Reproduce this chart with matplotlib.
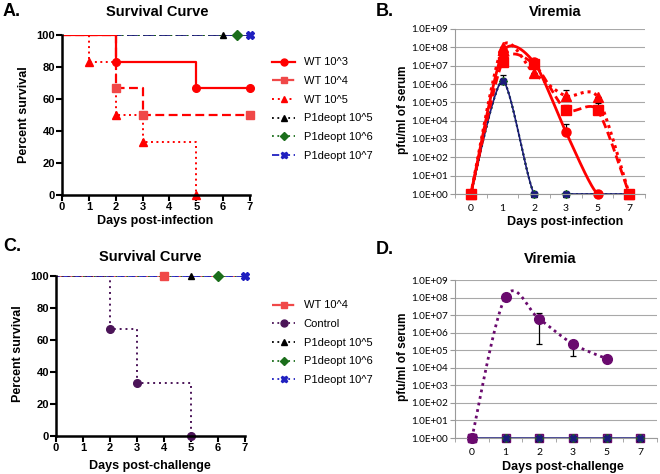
import numpy as np
import matplotlib
matplotlib.use("Agg")
import matplotlib.pyplot as plt
from matplotlib.ticker import FixedLocator, FixedFormatter

plt.rcParams['font.family'] = ['Liberation Sans', 'DejaVu Sans']

# ---- data ----
days = [0, 1, 2, 3, 4, 5, 6, 7]

# panel A survival (step points)
a_wt3_t = [0, 2, 5, 7]
a_wt3_s = [100, 83.3, 66.7, 66.7]
a_wt4_t = [0, 2, 3, 7]
a_wt4_s = [100, 66.7, 50, 50]
a_wt5_t = [0, 1, 2, 3, 5]
a_wt5_s = [100, 83.3, 50, 33.3, 0]
a_p1_mark = [6, 6.5, 7]          # censor marks of P1deopt 10^5, 10^6, 10^7

# panel C survival
c_ctrl_t = [0, 2, 3, 5]
c_ctrl_s = [100, 66.7, 33.3, 0]
c_mark = [4, 5, 6, 7]            # WT 10^4, P1deopt 10^5, 10^6, 10^7

# viremia categories
vir_days = ['0', '1', '2', '3', '5', '7']
vir_ticks = [1e0, 1e1, 1e2, 1e3, 1e4, 1e5, 1e6, 1e7, 1e8, 1e9]
vir_labels = ['1.0E+00', '1.0E+01', '1.0E+02', '1.0E+03', '1.0E+04',
              '1.0E+05', '1.0E+06', '1.0E+07', '1.0E+08', '1.0E+09']

# panel B
b_wt3 = [1, 5e7, 1.5e7, 2.5e3, 1, 1]
b_wt3_err = [0, 0, 0, 4.5e3, 0, 0]
b_wt4 = [1, 1.6e7, 1.2e7, 3.8e4, 3.8e4, 1]
b_wt4_err = [0, 0, 0, 3.5e4, 5e4, 0]
b_wt5 = [1, 1.1e8, 3.8e6, 2.2e5, 2e5, 1]
b_wt5_err = [0, 0, 0, 2.5e5, 0, 0]
b_p1 = [1, 1.5e6, 1, 1, 1, 1]
b_p1_err = [0, 1.5e6, 0, 0, 0, 0]

# panel D
d_ctrl = [1, 1.1e8, 6e6, 2.3e5, 3.3e4]
d_ctrl_lo = [0, 0, 5.77e6, 1.83e5, 0]
d_ctrl_hi = [0, 0, 7e6, 0, 0]
d_flat = [1, 1, 1, 1, 1, 1]

RED = '#ff0000'
LRED = '#f04848'
GREEN = '#1b6e1b'
BLUE = '#2020c0'
NAVY = '#1c1c7a'
PURPLE = '#4b1458'
DPURPLE = '#6a0a6e'

W, H = 660, 474
fig = plt.figure(figsize=(6.6, 4.74), dpi=100)


def rect(l, t, r, b):
    return [l / W, 1 - b / H, (r - l) / W, (b - t) / H]


def ftext(x, y, s, **kw):
    fig.text(x / W, 1 - y / H, s, ha=kw.pop('ha', 'center'),
             va=kw.pop('va', 'center'), **kw)


def smooth(y, k=8):
    # smoothed line (Catmull-Rom style in log space), like a spreadsheet "smoothed line"
    x = np.arange(len(y), dtype=float)
    ly = np.log10(np.asarray(y, dtype=float))
    P = np.column_stack([x, ly])
    out = []
    n = len(P)
    for i in range(n - 1):
        p0 = P[i - 1] if i > 0 else P[i]
        p1, p2 = P[i], P[i + 1]
        p3 = P[i + 2] if i + 2 < n else P[i + 1]
        c1 = p1 + (p2 - p0) / k
        c2 = p2 - (p3 - p1) / k
        t = np.linspace(0, 1, 30)[:, None]
        seg = ((1 - t) ** 3) * p1 + 3 * ((1 - t) ** 2) * t * c1 + 3 * (1 - t) * t ** 2 * c2 + t ** 3 * p2
        out.append(seg)
    out = np.vstack(out)
    return out[:, 0], 10 ** out[:, 1]


def prism_axes(ax):
    for s in ['top', 'right']:
        ax.spines[s].set_visible(False)
    for s in ['left', 'bottom']:
        ax.spines[s].set_linewidth(1.8)
    ax.set_xlim(0, 7)
    ax.set_ylim(0, 100)
    ax.set_xticks(days)
    ax.set_yticks([0, 20, 40, 60, 80, 100])
    ax.tick_params(width=1.5, length=4, labelsize=8, pad=1)
    for lab in ax.get_xticklabels() + ax.get_yticklabels():
        lab.set_fontweight('bold')


def excel_axes(ax, ncat):
    ax.set_yscale('log')
    ax.set_ylim(1, 1e9)
    ax.set_xlim(-0.5, ncat - 0.5)
    ax.yaxis.set_major_locator(FixedLocator(vir_ticks))
    ax.yaxis.set_major_formatter(FixedFormatter(vir_labels))
    ax.yaxis.set_minor_locator(FixedLocator([]))
    ax.set_xticks(range(ncat))
    ax.set_xticklabels(vir_days)
    ax.set_xticks(np.arange(-0.5, ncat, 1), minor=True)
    ax.tick_params(axis='x', which='major', length=0, labelsize=7.5, pad=7,
                   labelfontfamily='Lato')
    ax.tick_params(axis='x', which='minor', length=3, color='#9a9a9a')
    ax.tick_params(axis='y', length=3.5, color='#9a9a9a', labelsize=7.2, pad=1.5,
                   labelfontfamily='Lato')
    for s in ['top', 'right']:
        ax.spines[s].set_visible(False)
    for s in ['left', 'bottom']:
        ax.spines[s].set_color('#9a9a9a')
        ax.spines[s].set_linewidth(0.8)
    ax.grid(axis='y', color='#a8a8a8', linewidth=0.8)
    ax.set_axisbelow(True)


# ---------------- Panel A ----------------
axA = fig.add_axes(rect(62, 35, 250, 195))
prism_axes(axA)
axA.plot([0, 7], [100, 100], ls=(0, (1, 2)), color='black', lw=1.3)
axA.plot([0, 7], [100, 100], ls=(0, (1, 2)), color=GREEN, lw=1.3)
axA.plot([0, 7], [100, 100], ls=(0, (6, 3)), color=NAVY, lw=1.3)
axA.plot(a_wt5_t, a_wt5_s, drawstyle='steps-post', ls=(0, (1, 1.8)), color=RED, lw=1.4)
axA.plot(a_wt4_t, a_wt4_s, drawstyle='steps-post', ls=(0, (4, 2)), color=RED, lw=1.6)
axA.plot(a_wt3_t, a_wt3_s, drawstyle='steps-post', ls='-', color=RED, lw=1.6)
axA.plot(a_wt3_t[1:], a_wt3_s[1:], 'o', color=RED, ms=5.5, clip_on=False)
axA.plot(a_wt4_t[1:], a_wt4_s[1:], 's', color=LRED, ms=5.5, clip_on=False)
axA.plot(a_wt5_t[1:], a_wt5_s[1:], '^', color=RED, ms=5.5, clip_on=False)
axA.plot([a_p1_mark[0]], [100], '^', color='black', ms=5, clip_on=False)
axA.plot([a_p1_mark[1]], [100], 'D', color=GREEN, ms=5, clip_on=False)
axA.plot([a_p1_mark[2]], [100], 'X', color=BLUE, ms=5.5, clip_on=False)

hA = [
    plt.Line2D([], [], color=RED, ls='-', marker='o', lw=1.6, ms=5),
    plt.Line2D([], [], color=LRED, ls=(0, (4, 2)), marker='s', lw=1.6, ms=5),
    plt.Line2D([], [], color=RED, ls=(0, (1, 2)), marker='^', lw=1.4, ms=5),
    plt.Line2D([], [], color='black', ls=(0, (1, 2)), marker='^', lw=1.3, ms=5),
    plt.Line2D([], [], color=GREEN, ls=(0, (1, 2)), marker='D', lw=1.3, ms=4.5),
    plt.Line2D([], [], color=BLUE, ls=(0, (4, 2)), marker='X', lw=1.3, ms=5),
]
labA = ['WT 10^3', 'WT 10^4', 'WT 10^5', 'P1deopt 10^5', 'P1deopt 10^6', 'P1deopt 10^7']
fig.legend(hA, labA, loc='upper left', bbox_to_anchor=(268 / W, 1 - 53 / H),
           frameon=False, fontsize=8, handlelength=2.0, handletextpad=0.8,
           labelspacing=0.78, borderaxespad=0)

ftext(12, 12, 'A.', fontsize=13, fontweight='bold')
ftext(157, 12, 'Survival Curve', fontsize=10.5, fontweight='bold')
ftext(24, 115, 'Percent survival', fontsize=9, fontweight='bold', rotation=90)
ftext(155, 221, 'Days post-infection', fontsize=9, fontweight='bold')

# ---------------- Panel B ----------------
axB = fig.add_axes(rect(455, 29, 645, 194))
excel_axes(axB, len(vir_days))
xi = np.arange(len(vir_days))
axB.errorbar(xi, b_p1, yerr=[np.zeros(len(b_p1_err)), b_p1_err], fmt='none',
             ecolor='black', elinewidth=0.9, capsize=2.5, capthick=0.9)
sx, sy = smooth(b_p1)
axB.plot(sx, sy, color='black', ls=(0, (1, 1.5)), lw=1.4)
axB.plot(sx, sy, color=GREEN, ls=(0, (1, 1.5)), lw=1.4)
axB.plot(sx, sy, color=NAVY, ls='-', lw=1.2)
axB.plot(xi, b_p1, '^', color='black', ms=5, clip_on=False)
axB.plot(xi, b_p1, 'D', color=GREEN, ms=4.5, clip_on=False)
axB.plot(xi, b_p1, 'X', color=NAVY, ms=5, clip_on=False)
for vals, err, ls, mk, lw in [(b_wt5, b_wt5_err, (0, (1, 1.3)), '^', 2.2),
                              (b_wt3, b_wt3_err, '-', 'o', 2.0),
                              (b_wt4, b_wt4_err, (0, (3, 1.5)), 's', 2.0)]:
    axB.errorbar(xi, vals, yerr=[np.zeros(len(err)), err], fmt='none',
                 ecolor='black', elinewidth=0.9, capsize=2.5, capthick=0.9)
    sx, sy = smooth(vals)
    axB.plot(sx, sy, color=RED, ls=ls, lw=lw)
    axB.plot(xi, vals, mk, color=RED, ms=6.5, clip_on=False)

ftext(385, 12, 'B.', fontsize=13, fontweight='bold')
ftext(555, 12, 'Viremia', fontsize=10.5, fontweight='bold')
ftext(403, 110, 'pfu/ml of serum', fontsize=8.5, fontweight='bold', rotation=90)
ftext(565, 222, 'Days post-infection', fontsize=9, fontweight='bold')

# ---------------- Panel C ----------------
axC = fig.add_axes(rect(56, 276, 245, 436))
prism_axes(axC)
axC.plot([0, 7], [100, 100], ls=(0, (4, 2)), color=LRED, lw=1.3)
axC.plot([0, 7], [100, 100], ls=(0, (1, 2)), color=GREEN, lw=1.3)
axC.plot([0, 7], [100, 100], ls=(2, (4, 2)), color=BLUE, lw=1.3)
axC.plot(c_ctrl_t, c_ctrl_s, drawstyle='steps-post', ls=(0, (1, 2)), color=PURPLE, lw=1.4)
axC.plot(c_ctrl_t[1:], c_ctrl_s[1:], 'o', color=PURPLE, ms=5.5, clip_on=False)
axC.plot([c_mark[0]], [100], 's', color=LRED, ms=5.5, clip_on=False)
axC.plot([c_mark[1]], [100], '^', color='black', ms=5, clip_on=False)
axC.plot([c_mark[2]], [100], 'D', color=GREEN, ms=5, clip_on=False)
axC.plot([c_mark[3]], [100], 'X', color=BLUE, ms=5.5, clip_on=False)

hC = [
    plt.Line2D([], [], color=LRED, ls=(0, (4, 2)), marker='s', lw=1.6, ms=5),
    plt.Line2D([], [], color=PURPLE, ls=(0, (1, 2)), marker='o', lw=1.3, ms=5),
    plt.Line2D([], [], color='black', ls=(0, (1, 2)), marker='^', lw=1.3, ms=5),
    plt.Line2D([], [], color=GREEN, ls=(0, (1, 2)), marker='D', lw=1.3, ms=4.5),
    plt.Line2D([], [], color=BLUE, ls=(0, (1, 2)), marker='X', lw=1.3, ms=5),
]
labC = ['WT 10^4', 'Control', 'P1deopt 10^5', 'P1deopt 10^6', 'P1deopt 10^7']
fig.legend(hC, labC, loc='upper left', bbox_to_anchor=(268 / W, 1 - 296 / H),
           frameon=False, fontsize=8, handlelength=2.0, handletextpad=0.8,
           labelspacing=0.78, borderaxespad=0)

ftext(12, 247, 'C.', fontsize=13, fontweight='bold')
ftext(150, 257, 'Survival Curve', fontsize=10.5, fontweight='bold')
ftext(18, 354, 'Percent survival', fontsize=9, fontweight='bold', rotation=90)
ftext(150, 466, 'Days post-challenge', fontsize=9, fontweight='bold')

# ---------------- Panel D ----------------
axD = fig.add_axes(rect(455, 280, 657, 438))
excel_axes(axD, len(vir_days))
xd = np.arange(len(d_flat))
axD.plot(xd, d_flat, color=NAVY, lw=1.8, zorder=3)
axD.plot(xd, d_flat, 's', color=LRED, mec=DPURPLE, ms=6, clip_on=False, zorder=4)
axD.plot(xd, d_flat, '^', color='black', ms=5, clip_on=False, zorder=4)
axD.plot(xd, d_flat, 'D', color=GREEN, ms=4, clip_on=False, zorder=4)
axD.plot(xd, d_flat, 'X', color=NAVY, ms=4.5, clip_on=False, zorder=4)
xc = np.arange(len(d_ctrl))
axD.errorbar(xc, d_ctrl, yerr=[d_ctrl_lo, d_ctrl_hi], fmt='none',
             ecolor='black', elinewidth=0.9, capsize=2.5, capthick=0.9)
sx, sy = smooth(d_ctrl, k=6)
axD.plot(sx, sy, color=DPURPLE, ls=(0, (1, 1.4)), lw=2.0)
axD.plot(xc, d_ctrl, 'o', color=DPURPLE, ms=7, clip_on=False)
axD.plot([0], [1], 's', color=DPURPLE, ms=6, clip_on=False, zorder=5)

ftext(385, 249, 'D.', fontsize=13, fontweight='bold')
ftext(550, 259, 'Viremia', fontsize=10.5, fontweight='bold')
ftext(403, 357, 'pfu/ml of serum', fontsize=8.5, fontweight='bold', rotation=90)
ftext(563, 467, 'Days post-challenge', fontsize=9, fontweight='bold')

fig.savefig('out.png', dpi=100)
